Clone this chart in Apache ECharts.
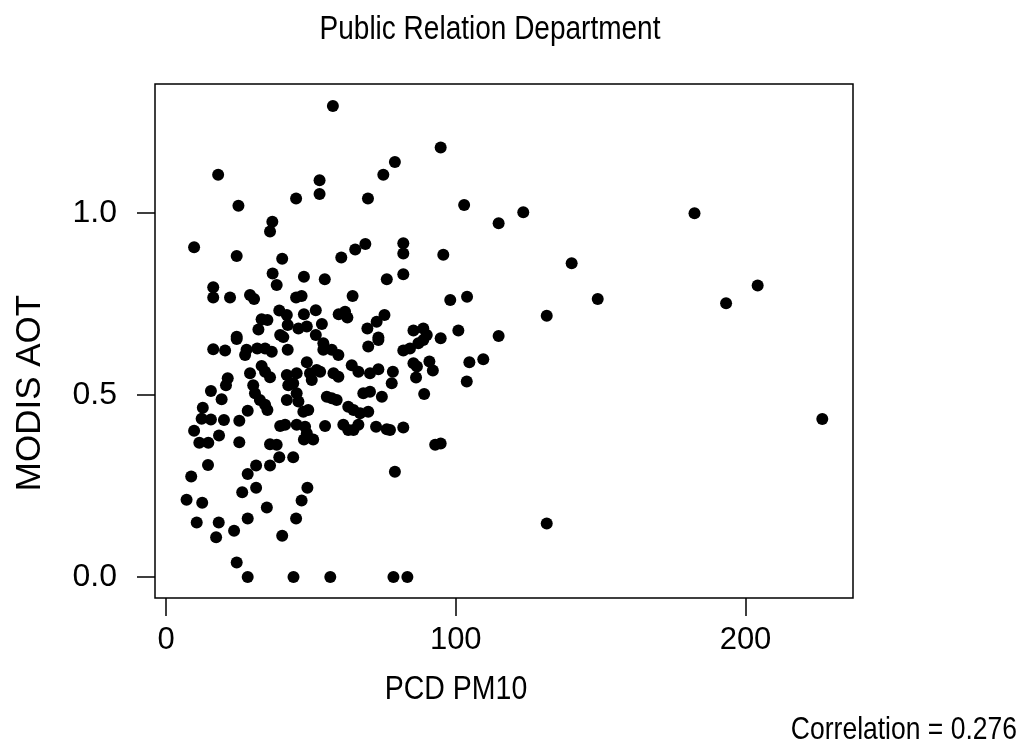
<!DOCTYPE html>
<html>
<head>
<meta charset="utf-8">
<script src="https://cdn.jsdelivr.net/npm/echarts@6/dist/echarts.min.js"></script>
<style>
html,body{margin:0;padding:0;background:#fff;}
#chart{width:1029px;height:752px;}
</style>
</head>
<body>
<div id="chart"></div>
<script>
var chartTitle = "Public Relation Department";
var xTitle = "PCD PM10";
var yTitle = "MODIS AOT";
var noteText = "Correlation = 0.276";
var xTicks = [0, 100, 200];
var yTicks = [0, 0.5, 1.0];

var pm10 = [
57.6,18.0,94.8,79.0,75.0,53.0,53.0,44.9,69.7,25.0,102.9,123.3,114.8,182.4,9.7,36.7,35.9,24.4,40.1,36.8,
38.2,47.6,54.8,60.5,65.3,68.8,76.2,81.9,81.9,81.9,16.3,16.3,22.1,29.0,30.4,44.9,46.8,64.4,39.1,41.7,
42.0,47.6,51.7,53.8,33.0,35.0,31.9,45.7,48.6,59.6,61.8,62.6,69.5,72.7,75.4,24.4,39.4,51.7,73.3,95.7,
140.0,149.0,131.4,98.1,103.9,85.4,88.8,90.0,94.8,100.9,114.8,81.9,84.2,87.1,88.8,85.4,86.6,90.9,92.1,86.3,
104.7,109.5,103.8,89.1,78.3,77.9,81.9,77.3,92.9,94.8,79.0,131.4,78.5,83.3,204.2,193.3,226.5,28.2,44.0,56.7,
24.4,10.6,18.2,17.3,23.5,7.1,12.5,28.2,34.8,40.1,44.9,46.8,48.8,26.3,31.1,28.2,31.1,35.9,39.1,43.9,
8.7,14.5,35.9,38.2,11.5,14.6,9.7,18.3,25.3,12.7,12.3,15.5,20.0,25.3,28.2,15.5,19.2,20.7,21.3,16.3,
20.4,24.4,27.3,27.8,31.5,34.2,36.5,40.5,42.0,48.6,29.0,33.0,35.9,30.1,30.7,32.4,34.2,35.0,41.7,45.1,
42.2,43.9,41.7,45.1,45.7,47.4,49.1,39.4,41.1,45.1,48.0,48.6,47.6,50.8,52.0,53.2,49.7,50.3,54.3,54.3,
57.2,59.5,57.8,59.5,55.5,57.2,58.9,54.9,61.2,62.9,64.7,66.4,62.9,64.7,67.0,69.8,68.1,70.4,74.5,64.1,
66.4,70.4,73.3,69.8,73.3,72.5,76.2,34.2
];
var aot = [
1.294,1.105,1.180,1.140,1.105,1.090,1.052,1.040,1.040,1.020,1.022,1.002,0.972,0.999,0.906,0.976,0.949,0.882,0.874,0.834,
0.802,0.825,0.818,0.878,0.900,0.915,0.818,0.917,0.889,0.832,0.796,0.768,0.768,0.775,0.764,0.768,0.772,0.772,0.732,0.720,
0.692,0.722,0.733,0.695,0.708,0.706,0.680,0.683,0.688,0.722,0.729,0.713,0.683,0.701,0.720,0.660,0.665,0.665,0.658,0.885,
0.862,0.764,0.718,0.761,0.770,0.677,0.683,0.665,0.656,0.677,0.662,0.622,0.628,0.642,0.651,0.587,0.578,0.592,0.567,0.548,
0.590,0.598,0.537,0.503,0.564,0.532,0.411,0.404,0.363,0.367,0.289,0.147,0.000,0.000,0.801,0.752,0.434,0.000,0.000,0.000,
0.040,0.150,0.150,0.109,0.127,0.212,0.204,0.161,0.191,0.113,0.161,0.210,0.245,0.233,0.245,0.283,0.306,0.306,0.329,0.329,
0.276,0.308,0.365,0.363,0.369,0.369,0.402,0.389,0.370,0.465,0.435,0.433,0.431,0.429,0.457,0.511,0.488,0.527,0.546,0.626,
0.622,0.654,0.610,0.624,0.628,0.628,0.619,0.659,0.624,0.590,0.560,0.580,0.549,0.527,0.505,0.486,0.473,0.459,0.555,0.560,
0.527,0.532,0.486,0.505,0.482,0.454,0.459,0.415,0.418,0.418,0.413,0.395,0.378,0.378,0.569,0.564,0.560,0.541,0.642,0.624,
0.624,0.610,0.560,0.550,0.495,0.491,0.486,0.415,0.418,0.404,0.404,0.418,0.468,0.459,0.450,0.454,0.505,0.509,0.495,0.582,
0.564,0.560,0.571,0.633,0.651,0.413,0.406,0.564
];

var points = pm10.map(function(v, i){ return [v, aot[i]]; });

var FONT = '"Liberation Sans", Arial, sans-serif';
var chart = echarts.init(document.getElementById('chart'), null, {renderer: 'canvas'});
chart.setOption({
  backgroundColor: '#ffffff',
  animation: false,
  grid: {
    left: 155, top: 84, width: 698, height: 514,
    show: true, borderColor: '#000', borderWidth: 1.5, backgroundColor: 'transparent'
  },
  xAxis: {
    type: 'value', min: -3.796, max: 237.1,
    axisLine: {show: false, onZero: false},
    splitLine: {show: false},
    axisTick: {show: true, inside: false, customValues: xTicks, length: 18, lineStyle: {color: '#000', width: 1.5}},
    axisLabel: {customValues: xTicks, margin: 27, color: '#000', fontSize: 31, fontFamily: FONT}
  },
  yAxis: {
    type: 'value', min: -0.0577, max: 1.3544,
    axisLine: {show: false, onZero: false},
    splitLine: {show: false},
    axisTick: {show: true, inside: false, customValues: yTicks, length: 18, lineStyle: {color: '#000', width: 1.5}},
    axisLabel: {customValues: yTicks, margin: 38, color: '#000', fontSize: 32, fontFamily: FONT,
      formatter: function(v){ return v.toFixed(1); }}
  },
  graphic: [
    {type: 'text', x: 490, y: 30, scaleY: 1.18, style: {text: chartTitle, x: 0, y: 0, fill: '#000', font: '28px ' + FONT, textAlign: 'center', textVerticalAlign: 'middle'}},
    {type: 'text', x: 456, y: 690, scaleY: 1.18, style: {text: xTitle, x: 0, y: 0, fill: '#000', font: '28.5px ' + FONT, textAlign: 'center', textVerticalAlign: 'middle'}},
    {type: 'text', rotation: Math.PI/2, x: 30, y: 393, style: {text: yTitle, x: 0, y: 0, fill: '#000', font: '35px ' + FONT, textAlign: 'center', textVerticalAlign: 'middle'}},
    {type: 'text', x: 1017, y: 730, scaleY: 1.18, style: {text: noteText, x: 0, y: 0, fill: '#000', font: '26.5px ' + FONT, textAlign: 'right', textVerticalAlign: 'middle'}}
  ],
  series: [{
    type: 'scatter',
    data: points,
    symbol: 'circle',
    symbolSize: 12,
    itemStyle: {color: '#000', opacity: 1},
    emphasis: {disabled: true}
  }]
});
</script>
</body>
</html>
